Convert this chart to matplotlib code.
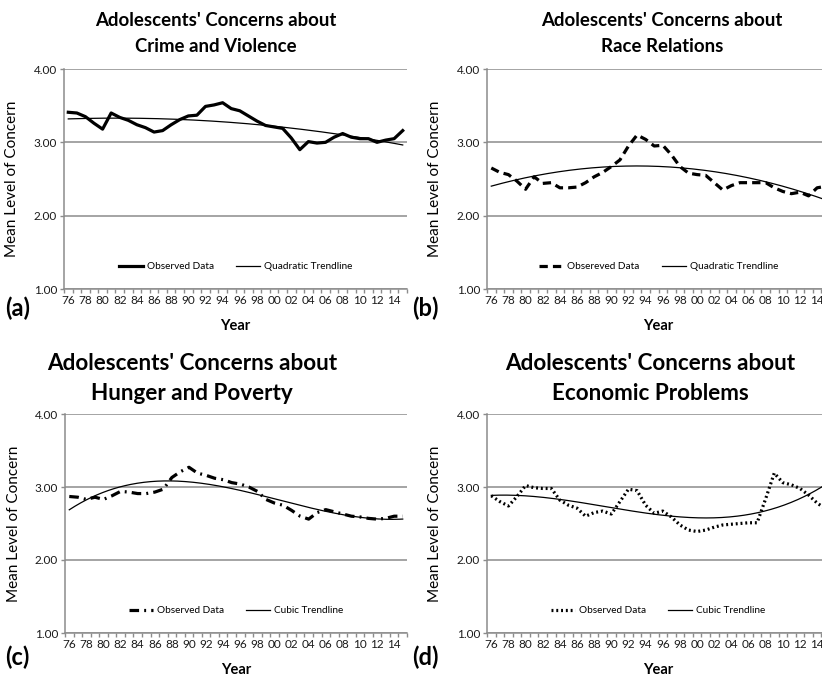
import numpy as np
import matplotlib
matplotlib.use("Agg")
import matplotlib.pyplot as plt

plt.rcParams['font.family'] = ['Lato', 'DejaVu Sans']

years = list(range(1976, 2016))
year_labels = [f"{y % 100:02d}" for y in years[::2]]

crime = [3.41, 3.40, 3.35, 3.26, 3.18, 3.40, 3.34, 3.30, 3.24, 3.20,
         3.14, 3.16, 3.24, 3.31, 3.36, 3.37, 3.49, 3.51, 3.54, 3.46,
         3.43, 3.36, 3.29, 3.23, 3.21, 3.19, 3.06, 2.90, 3.01, 2.99,
         3.00, 3.07, 3.12, 3.07, 3.05, 3.05, 3.00, 3.03, 3.05, 3.16]
race = [2.65, 2.59, 2.56, 2.47, 2.36, 2.53, 2.44, 2.45, 2.38, 2.38,
        2.39, 2.45, 2.53, 2.59, 2.67, 2.76, 2.95, 3.10, 3.04, 2.95,
        2.96, 2.83, 2.67, 2.58, 2.56, 2.55, 2.45, 2.35, 2.41, 2.45,
        2.45, 2.45, 2.45, 2.38, 2.33, 2.30, 2.32, 2.27, 2.38, 2.40]
hunger = [2.87, 2.86, 2.83, 2.86, 2.83, 2.88, 2.94, 2.93, 2.91, 2.91,
          2.93, 2.97, 3.13, 3.21, 3.27, 3.19, 3.16, 3.12, 3.10, 3.06,
          3.04, 3.00, 2.94, 2.83, 2.78, 2.75, 2.68, 2.60, 2.56, 2.65,
          2.69, 2.66, 2.63, 2.60, 2.59, 2.57, 2.56, 2.57, 2.60, 2.60]
economy = [2.88, 2.80, 2.74, 2.87, 3.02, 2.99, 2.98, 2.98, 2.82, 2.75,
           2.71, 2.60, 2.65, 2.67, 2.63, 2.80, 2.97, 2.95, 2.75, 2.64,
           2.67, 2.59, 2.48, 2.41, 2.39, 2.41, 2.45, 2.48, 2.49, 2.50,
           2.51, 2.51, 2.84, 3.19, 3.06, 3.03, 2.98, 2.89, 2.78, 2.70]

panels = [
    dict(series=crime, deg=2, title="Adolescents' Concerns about\nCrime and Violence",
         obs="Observed Data", trend="Quadratic Trendline", tag="(a)",
         style=dict(linestyle='-')),
    dict(series=race, deg=2, title="Adolescents' Concerns about\nRace Relations",
         obs="Obsereved Data", trend="Quadratic Trendline", tag="(b)",
         style=dict(linestyle=(0, (2.6, 1.6)))),
    dict(series=hunger, deg=3, title="Adolescents' Concerns about\nHunger and Poverty",
         obs="Observed Data", trend="Cubic Trendline", tag="(c)",
         style=dict(linestyle=(0, (3.0, 1.6, 0.6, 1.6)))),
    dict(series=economy, deg=3, title="Adolescents' Concerns about\nEconomic Problems",
         obs="Observed Data", trend="Cubic Trendline", tag="(d)",
         style=dict(linestyle=(0, (0.6, 0.9)))),
]

W, H = 822, 675
fig = plt.figure(figsize=(W / 100, H / 100), dpi=100)

# axes boxes in pixels: left, top, width, height
boxes = [(64, 69, 343, 220), (487, 69, 343, 220),
         (65, 414, 342, 219), (487, 414, 343, 219)]
title_x = [216, 662, 192, 650]
title_y = [(20, 46), (20, 46), (364, 393), (364, 393)]
title_size = [13.4, 13.4, 16.2, 16.2]
tag_y = [308, 308, 657, 657]

gray = '#8c8c8c'
x = np.arange(len(years))

for i, p in enumerate(panels):
    l, t, w, h = boxes[i]
    ax = fig.add_axes([l / W, 1 - (t + h) / H, w / W, h / H])
    y = np.array(p['series'])
    coef = np.polyfit(x, y, p['deg'])
    xs = np.linspace(0, len(years) - 1, 300)

    ax.plot(x, y, color='black', lw=2.3, solid_joinstyle='round',
            label=p['obs'], **p['style'])
    ax.plot(xs, np.polyval(coef, xs), color='black', lw=0.9, label=p['trend'])

    ax.set_xlim(-0.5, len(years) - 0.5)
    ax.set_ylim(1, 4)
    ax.set_yticks([1, 2, 3, 4])
    ax.set_yticklabels([f"{v:.2f}" for v in [1, 2, 3, 4]])
    ax.set_xticks(np.arange(-0.5, len(years), 1))
    ax.set_xticklabels([])
    ax.set_xticks(x[::2], minor=True)
    ax.set_xticklabels(year_labels, minor=True)
    ax.tick_params(axis='x', which='major', length=3, color=gray, width=1)
    ax.tick_params(axis='x', which='minor', length=0, labelsize=8.5, pad=4,
                   labelcolor='#1a1a1a')
    ax.tick_params(axis='y', length=3, color=gray, width=1, labelsize=8.5,
                   pad=2, labelcolor='#1a1a1a')
    ax.grid(axis='y', color=gray, lw=1.1)
    ax.set_axisbelow(True)
    for s in ['top', 'right']:
        ax.spines[s].set_visible(False)
    for s in ['left', 'bottom']:
        ax.spines[s].set_color(gray)
        ax.spines[s].set_linewidth(1.1)

    ax.set_ylabel("Mean Level of Concern", fontsize=11)
    ax.yaxis.set_label_coords(-0.13, 0.5)
    ax.set_xlabel("Year", fontsize=10.5, fontweight='bold')
    ax.xaxis.set_label_coords(0.5, -0.135)

    ax.legend(loc='lower center', bbox_to_anchor=(0.5, 0.04), ncol=2,
              frameon=False, fontsize=7.2, handlelength=2.4, handletextpad=0.4,
              columnspacing=2.2)

    for line, ty in zip(p['title'].split('\n'), title_y[i]):
        fig.text(title_x[i] / W, 1 - ty / H, line, ha='center', va='center',
                 fontsize=title_size[i], fontweight='bold')
    fig.text((5 if i % 2 == 0 else 412) / W, 1 - tag_y[i] / H, p['tag'],
             ha='left', va='center', fontsize=17, fontweight='bold')

fig.savefig('out.png', dpi=100)
